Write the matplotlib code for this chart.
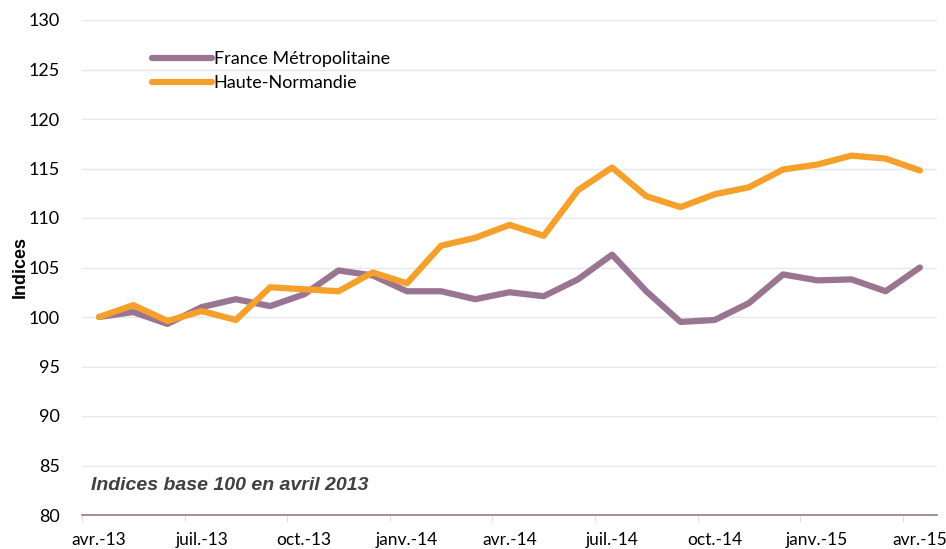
import numpy as np
import matplotlib.pyplot as plt

labels = ["avr.-13", "juil.-13", "oct.-13", "janv.-14", "avr.-14",
          "juil.-14", "oct.-14", "janv.-15", "avr.-15"]
france = [100, 100.5, 99.3, 101.0, 101.8, 101.1, 102.3, 104.7, 104.2, 102.6,
          102.6, 101.8, 102.5, 102.1, 103.8, 106.3, 102.6, 99.5, 99.7, 101.4,
          104.3, 103.7, 103.8, 102.6, 105.0]
normandie = [100, 101.2, 99.6, 100.6, 99.7, 103.0, 102.8, 102.6, 104.5, 103.4,
             107.2, 108.0, 109.3, 108.2, 112.8, 115.1, 112.2, 111.1, 112.4, 113.1,
             114.9, 115.4, 116.3, 116.0, 114.8]

purple = "#9A7591"
orange = "#F5A02A"

fig = plt.figure(figsize=(9.46, 5.49), dpi=100)
ax = fig.add_axes([82/946, 34/549, 855/946, 495/549])

x = np.arange(len(france))
ax.plot(x, france, color=purple, lw=4.5, label="France Métropolitaine", solid_capstyle="round")
ax.plot(x, normandie, color=orange, lw=4.5, label="Haute-Normandie", solid_capstyle="round")

ax.set_xlim(-0.5, 24.5)
ax.set_ylim(80, 130)
ax.set_yticks(np.arange(80, 131, 5))
ax.set_xticks(np.arange(0, 25, 3))
ax.set_xticklabels(labels, fontfamily="Lato", fontsize=12.5)
ax.set_xticks(np.arange(-0.5, 25, 3), minor=True)
ax.tick_params(axis="x", which="major", length=0, pad=12)
ax.tick_params(axis="x", which="minor", length=5, color="#d9d9d9")
ax.tick_params(axis="y", length=0, pad=16, labelsize=13)
for t in ax.get_yticklabels():
    t.set_fontfamily("Lato")

ax.grid(axis="y", color="#e6e6ee", lw=1)
ax.set_axisbelow(True)
for s in ["top", "right", "left"]:
    ax.spines[s].set_visible(False)
ax.spines["bottom"].set_color(purple)
ax.spines["bottom"].set_linewidth(1.2)

ax.set_ylabel("Indices", fontfamily="Liberation Sans", fontweight="bold", fontsize=13)
ax.yaxis.set_label_coords(-0.062, 0.5)
ax.text(-0.25, 82.5, "Indices base 100 en avril 2013", fontfamily="Liberation Sans",
        fontweight="bold", fontstyle="italic", fontsize=14, color="#404040")

leg = ax.legend(loc="upper left", bbox_to_anchor=(0.063, 0.97), frameon=False,
                prop={"family": "Lato", "size": 13}, handlelength=3.3, handletextpad=0.1,
                labelspacing=0.45)

fig.savefig("out.png", dpi=100)
